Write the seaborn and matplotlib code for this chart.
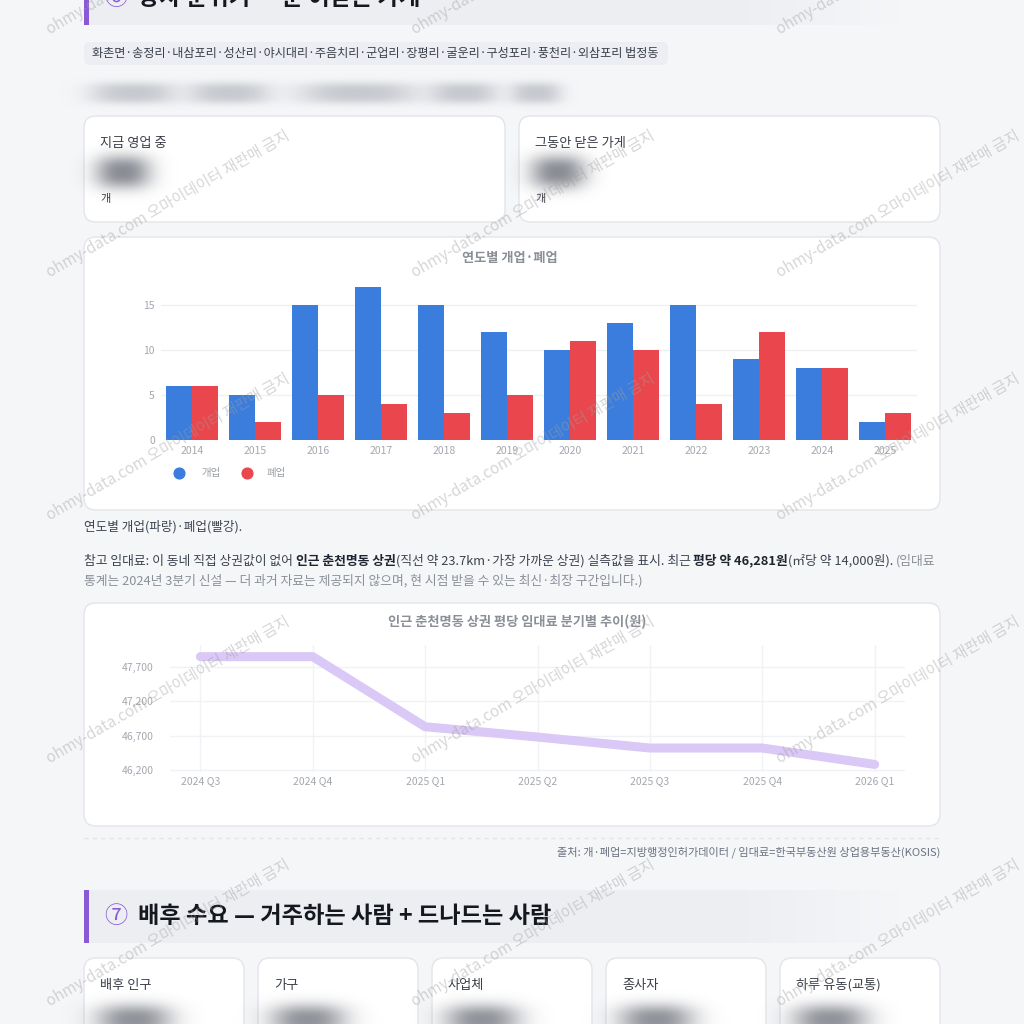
import numpy as np
import pandas as pd
import matplotlib
matplotlib.use("Agg")
import matplotlib.pyplot as plt
import seaborn as sns
from matplotlib.patches import FancyBboxPatch, Rectangle

sns.set_theme(style="white")
plt.rcParams['font.family'] = ['Noto Sans CJK KR', 'DejaVu Sans']
plt.rcParams['axes.unicode_minus'] = False

# ---------------- data ----------------
years = ['2014', '2015', '2016', '2017', '2018', '2019',
         '2020', '2021', '2022', '2023', '2024', '2025']
opened = [6, 5, 15, 17, 15, 12, 10, 13, 15, 9, 8, 2]
closed = [6, 2, 5, 4, 3, 5, 11, 10, 4, 12, 8, 3]
bar_yticks = [0, 5, 10, 15]

rent_quarters = ['2024 Q3', '2024 Q4', '2025 Q1', '2025 Q2', '2025 Q3', '2025 Q4', '2026 Q1']
rent_per_pyeong = [47850, 47850, 46830, 46680, 46520, 46520, 46281]
rent_yticks = [46200, 46700, 47200, 47700]

dong_names = ['화촌면', '송정리', '내삼포리', '성산리', '야시대리', '주음치리', '군업리',
              '장평리', '굴운리', '구성포리', '풍천리', '외삼포리']
kpi_top_labels = ['지금 영업 중', '그동안 닫은 가게']
kpi_bottom_labels = ['배후 인구', '가구', '사업체', '종사자', '하루 유동(교통)']

section6_title = '장사 분위기 — 문 여닫는 가게'
section7_title = '배후 수요 — 거주하는 사람 + 드나드는 사람'
bar_title = '연도별 개업·폐업'
line_title = '인근 춘천명동 상권 평당 임대료 분기별 추이(원)'
bar_caption = '연도별 개업(파랑)·폐업(빨강).'
source_text = '출처: 개·폐업=지방행정인허가데이터 / 임대료=한국부동산원 상업용부동산(KOSIS)'
watermark = 'ohmy-data.com 오마이데이터 재판매 금지'

# ---------------- colours ----------------
BG = '#f5f6f8'
CARD_EC = '#e3e5ea'
BLUE = '#3b7ddd'
RED = '#e9474d'
PURPLE = '#8a5ad6'
LINE_C = '#dac8f6'
TXT = '#3b4350'
DARK = '#1e2530'
GRAY = '#8a8f98'

# ---------------- figure ----------------
W = H = 1024
fig = plt.figure(figsize=(W / 100, H / 100), dpi=100, facecolor=BG)
bg = fig.add_axes([0, 0, 1, 1], zorder=0)
bg.set_xlim(0, W)
bg.set_ylim(H, 0)
bg.set_autoscale_on(False)
bg.axis('off')
renderer = fig.canvas.get_renderer()


def ax_rect(l, t, r, b):
    return [l / W, 1 - b / H, (r - l) / W, (b - t) / H]


def card(x0, y0, x1, y1, r=12, fc='white', ec=CARD_EC):
    bg.add_patch(FancyBboxPatch((x0, y0), x1 - x0, y1 - y0,
                                boxstyle=f"round,pad=0,rounding_size={r}",
                                fc=fc, ec=ec, lw=1, zorder=1))


def blob(cx, cy, sx, sy, color, alpha, p=2.4):
    """soft blurred placeholder (stands for the blurred-out values)"""
    hw, hh = int(sx * 2.2), int(sy * 2.2)
    xs = np.arange(-hw, hw + 1)
    ys = np.arange(-hh, hh + 1)
    dx, dy = np.meshgrid(xs, ys)
    a = alpha * np.exp(-((np.abs(dx) / sx) ** p + (np.abs(dy) / sy) ** p))
    rgb = matplotlib.colors.to_rgb(color)
    img = np.zeros(a.shape + (4,))
    img[..., 0], img[..., 1], img[..., 2] = rgb
    img[..., 3] = a
    bg.imshow(img, extent=(cx - hw, cx + hw, cy + hh, cy - hh), aspect='auto',
              zorder=2, interpolation='bilinear')


def text_w(s, size, weight='normal'):
    t = bg.text(0, 0, s, fontsize=size, fontweight=weight)
    w = t.get_window_extent(renderer).width
    t.remove()
    return w


def fit_size(s, target, base=10, weight='normal'):
    return base * target / text_w(s, base, weight)


def header(y0, y1, num, title, size):
    n = 200
    img = np.zeros((1, n, 4))
    img[..., :3] = matplotlib.colors.to_rgb('#eceef2')
    alpha = np.ones(n)
    fade = np.linspace(0, 1, n) > 0.78
    alpha[fade] = np.linspace(1, 0, fade.sum())
    img[0, :, 3] = alpha
    bg.imshow(img, extent=(84, 905, y1, y0), aspect='auto', zorder=1)
    bg.add_patch(Rectangle((84, y0), 5, y1 - y0, fc=PURPLE, ec='none', zorder=2))
    yc = (y0 + y1) / 2
    bg.text(104, yc, num, fontsize=size, color=PURPLE, va='center', ha='left', zorder=3)
    bg.text(138, yc, title, fontsize=size, fontweight='bold', color='#15191f',
            va='center', ha='left', zorder=3)


# ---------------- section 6 header ----------------
h_size = fit_size(section7_title, 412, weight='bold')
header(-28, 25, '⑥', section6_title, h_size)

# tag pill
tag = '·'.join(dong_names) + ' 법정동'
bg.add_patch(FancyBboxPatch((84, 42), 584, 23, boxstyle="round,pad=0,rounding_size=6",
                            fc='#eceef3', ec='none', zorder=1))
bg.text(92, 54, tag, fontsize=fit_size(tag, 568), color='#3a3f48', va='center', zorder=3)

# blurred sentence (blurred-out text in the reference)
for x0, x1 in [(90, 176), (188, 270), (298, 418), (430, 498), (510, 562)]:
    blob((x0 + x1) / 2, 93, (x1 - x0) / 2, 11, '#c2c5cb', 0.9, p=3)

# KPI cards top
for (x0, x1), lab in zip([(84, 505), (519, 940)], kpi_top_labels):
    card(x0, 116, x1, 222)
    bg.text(x0 + 16, 143, lab, fontsize=9.5, color='#3a3f48', va='center', zorder=3)
    blob(x0 + 39, 172, 28, 17, '#8a8d94', 1.0, p=2.5)
    bg.text(x0 + 16, 199, '개', fontsize=8, color='#3a3f48', va='center', zorder=3)

# ---------------- bar chart ----------------
card(84, 237, 940, 510)
bg.text(510, 258, bar_title, fontsize=9.5, fontweight='bold', color='#8a8f98',
        ha='center', va='center', zorder=3)
df_bar = pd.DataFrame({'연도': years * 2,
                       '건수': opened + closed,
                       '구분': ['개업'] * len(years) + ['폐업'] * len(years)})
axb = fig.add_axes(ax_rect(160.5, 282.5, 916.5, 440), zorder=2)
axb.set_facecolor('none')
sns.barplot(data=df_bar, x='연도', y='건수', hue='구분',
            palette={'개업': BLUE, '폐업': RED}, width=0.82, saturation=1,
            linewidth=0, ax=axb, legend=False)
axb.set_ylim(0, 17.5)
axb.set_xlim(-0.5, len(years) - 0.5)
axb.set_yticks(bar_yticks)
axb.set_xlabel('')
axb.set_ylabel('')
axb.yaxis.grid(True, color='#eef0f3', lw=1)
axb.set_axisbelow(True)
for s in axb.spines.values():
    s.set_visible(False)
axb.tick_params(axis='both', length=0, labelsize=7.5, labelcolor='#a3a8b0', pad=4)

# legend
bg.scatter([179], [473], s=60, color=BLUE, zorder=3)
bg.text(201, 473, '개업', fontsize=7.5, color='#9a9fa7', va='center', zorder=3)
bg.scatter([247], [473], s=60, color=RED, zorder=3)
bg.text(267, 473, '폐업', fontsize=7.5, color='#9a9fa7', va='center', zorder=3)

bg.text(84, 527, bar_caption, fontsize=fit_size(bar_caption, 158), color=TXT,
        va='center', zorder=3)

# ---------------- paragraph ----------------
line1 = [("참고 임대료: 이 동네 직접 상권값이 없어 ", 'normal', TXT),
         ("인근 춘천명동 상권", 'bold', DARK),
         ("(직선 약 23.7km·가장 가까운 상권) 실측값을 표시. 최근 ", 'normal', TXT),
         ("평당 약 46,281원", 'bold', DARK),
         ("(㎡당 약 14,000원). ", 'normal', TXT),
         ("(임대료", 'normal', GRAY)]
line2 = [("통계는 2024년 3분기 신설 — 더 과거 자료는 제공되지 않으며, 현 시점 받을 수 있는 최신·최장 구간입니다.)",
          'normal', GRAY)]


def seg_width(segs, size):
    sp = text_w('가 가', size) - text_w('가가', size)
    total = 0
    for s, wgt, _ in segs:
        lead = len(s) - len(s.lstrip(' '))
        trail = len(s) - len(s.rstrip(' '))
        total += (lead + trail) * sp + text_w(s.strip(' '), size, wgt)
    return total, sp


def draw_segs(segs, x, y, size):
    _, sp = seg_width(segs, size)
    for s, wgt, col in segs:
        lead = len(s) - len(s.lstrip(' '))
        trail = len(s) - len(s.rstrip(' '))
        x += lead * sp
        t = bg.text(x, y, s.strip(' '), fontsize=size, fontweight=wgt, color=col,
                    va='center', ha='left', zorder=3)
        x += t.get_window_extent(renderer).width + trail * sp


w10, _ = seg_width(line1, 10)
p_size = 10 * 854 / w10
draw_segs(line1, 84, 561, p_size)
draw_segs(line2, 84, 581, p_size)

# ---------------- line chart ----------------
card(84, 603, 940, 826)
bg.text(517, 622, line_title, fontsize=9.5, fontweight='bold', color='#8a8f98',
        ha='center', va='center', zorder=3)
axl = fig.add_axes(ax_rect(170, 645, 905, 772), zorder=2)
axl.set_facecolor('none')
xpos = np.arange(len(rent_quarters))
sns.lineplot(x=xpos, y=rent_per_pyeong, ax=axl, color=LINE_C, lw=6.5,
             solid_capstyle='round', solid_joinstyle='round')
axl.set_xlim(-0.27, len(rent_quarters) - 1 + 0.27)
axl.set_ylim(46171, 48020)
axl.set_xticks(xpos)
axl.set_xticklabels(rent_quarters)
axl.set_yticks(rent_yticks)
axl.set_yticklabels([f'{v:,}' for v in rent_yticks])
axl.grid(True, color='#f1f2f5', lw=1)
axl.set_axisbelow(True)
for s in axl.spines.values():
    s.set_visible(False)
axl.tick_params(axis='both', length=0, labelsize=7.5, labelcolor='#a3a8b0')
axl.tick_params(axis='y', pad=12)
axl.tick_params(axis='x', pad=3)

# separator + source
bg.plot([84, 940], [838, 838], color='#e2e4e8', lw=1, ls=(0, (3, 3)), zorder=2)
bg.text(940, 852, source_text, fontsize=fit_size(source_text, 384), color='#6b7280',
        ha='right', va='center', zorder=3)

# ---------------- section 7 ----------------
header(890, 943, '⑦', section7_title, h_size)

for i, lab in enumerate(kpi_bottom_labels):
    x0 = 84 + i * 174
    card(x0, 958, x0 + 160, 1070)
    bg.text(x0 + 16, 985, lab, fontsize=9.5, color='#3a3f48', va='center', zorder=3)
    blob(x0 + 50, 1020, 38, 16, '#8a8d94', 0.95, p=2.5)

# ---------------- watermarks ----------------
ov = fig.add_axes([0, 0, 1, 1], zorder=10)
ov.set_xlim(0, W)
ov.set_ylim(H, 0)
ov.axis('off')
ov.patch.set_visible(False)
for y in [35, 278, 521, 764, 1007]:
    for x in [50, 415, 780]:
        ov.text(x, y, watermark, rotation=30, rotation_mode='anchor', ha='left',
                va='baseline', fontsize=11, color='#9e9e9e', alpha=0.42)

fig.savefig('out.png', dpi=100, facecolor=BG)
